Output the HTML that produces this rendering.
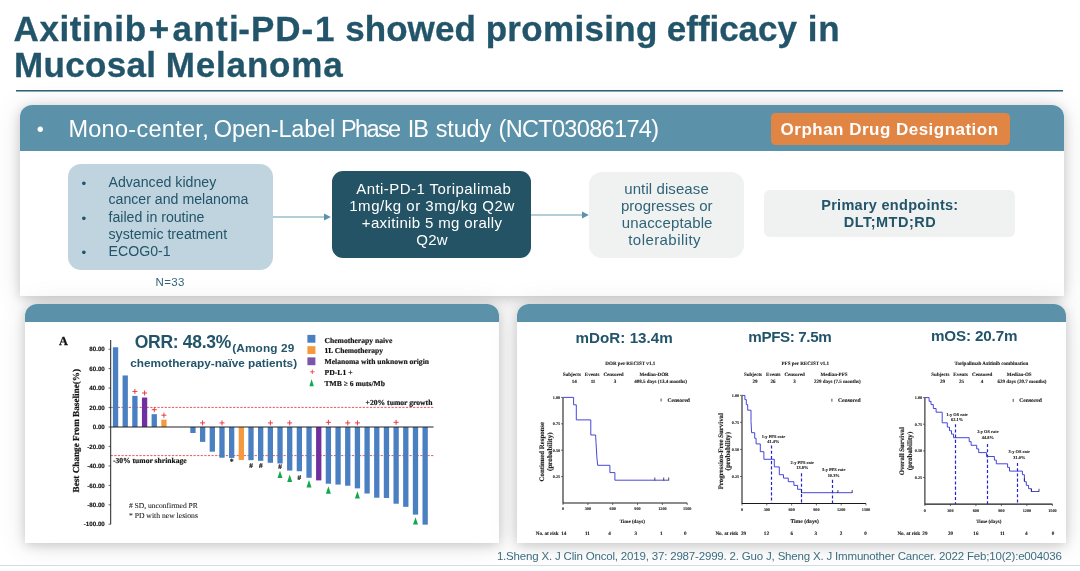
<!DOCTYPE html>
<html lang="en"><head><meta charset="utf-8"><title>Axitinib+anti-PD-1 showed promising efficacy in Mucosal Melanoma</title>
<style>
html,body{margin:0;padding:0;}
body{width:1080px;height:571px;position:relative;overflow:hidden;background:#fff;font-family:'Liberation Sans', sans-serif;}
.t{position:absolute;white-space:pre;line-height:1;font-family:'Liberation Sans', sans-serif;}
.abs{position:absolute;}
.g{margin:0;padding:0;font:inherit;}
.rule{left:16px;top:90px;width:1047px;height:1px;background:#2f6478;box-shadow:0 1px 0 rgba(47,100,120,.55);}
.panel{position:absolute;background:#fff;border-radius:12px 12px 0 0;box-shadow:0 2px 12px rgba(0,0,0,.18),0 2px 30px rgba(0,0,0,.1);}
.band{position:absolute;left:0;top:0;right:0;background:#5b92a9;border-radius:12px 12px 0 0;}
#p1{left:20px;top:105px;width:1044px;height:190.5px;}
#p1 .band{height:46px;}
#p2{left:25px;top:304px;width:474.2px;height:239.3px;}
#p3{left:517px;top:304px;width:549px;height:239.3px;}
#p2 .band,#p3 .band{height:18px;}
.badge{left:770.6px;top:113px;width:239px;height:31.5px;background:#e08544;border-radius:4.5px;}
.box{position:absolute;}
#b1{left:68px;top:164px;width:205px;height:105.5px;background:#bfd4df;border-radius:13px;}
#b2{left:331.5px;top:171.3px;width:199.3px;height:86.7px;background:#235364;border-radius:11px;}
#b3{left:589.3px;top:171.8px;width:155.2px;height:86.2px;background:#f0f1f1;border-radius:13px;}
#b4{left:764.3px;top:190px;width:251px;height:46.7px;background:#f0f1f1;border-radius:6px;}
.foot{left:0;top:565px;width:1080px;height:6px;background:#fff;border-top:1px solid #d3dce4;}
svg{position:absolute;left:0;top:0;}
</style></head><body>
<div class="abs rule"></div>
<div class="panel" id="p1"><div class="band"></div></div>
<div class="panel" id="p2"><div class="band"></div></div>
<div class="panel" id="p3"><div class="band"></div></div>
<div class="abs badge"></div>
<div class="box" id="b1"></div><div class="box" id="b2"></div><div class="box" id="b3"></div><div class="box" id="b4"></div>
<div class="abs foot"></div>
<svg width="1080" height="571" viewBox="0 0 1080 571" text-rendering="geometricPrecision">
<g stroke="#6a9bb1" stroke-width="1" fill="#5b92a9"><path d="M273 217H325" fill="none"/><path d="M324 213.5L330.8 217L324 220.5Z" stroke="none"/><path d="M531 215H583" fill="none"/><path d="M582 211.5L588.8 215L582 218.5Z" stroke="none"/></g>
<g stroke="#e8343a" stroke-width="0.85" stroke-dasharray="2.2 1.4" fill="none"><path d="M110.7 407.4H433.5"/><path d="M110.7 455.6H433.5"/></g>
<rect x="112.90" y="347.25" width="5.3" height="79.75" fill="#4a7fc1"/>
<rect x="122.58" y="375.46" width="5.3" height="51.54" fill="#4a7fc1"/>
<rect x="132.25" y="395.88" width="5.3" height="31.12" fill="#4a7fc1"/>
<rect x="141.93" y="397.53" width="5.3" height="29.47" fill="#7030a0"/>
<rect x="151.60" y="414.16" width="5.3" height="12.84" fill="#4a7fc1"/>
<rect x="161.28" y="419.71" width="5.3" height="7.29" fill="#f59a3c"/>
<rect x="190.30" y="427.00" width="5.3" height="6.03" fill="#4a7fc1"/>
<rect x="199.98" y="427.00" width="5.3" height="14.88" fill="#4a7fc1"/>
<rect x="209.65" y="427.00" width="5.3" height="24.70" fill="#4a7fc1"/>
<rect x="219.33" y="427.00" width="5.3" height="30.73" fill="#4a7fc1"/>
<rect x="229.00" y="427.00" width="5.3" height="30.93" fill="#4a7fc1"/>
<rect x="238.68" y="427.00" width="5.3" height="32.97" fill="#f59a3c"/>
<rect x="248.35" y="427.00" width="5.3" height="33.16" fill="#4a7fc1"/>
<rect x="258.02" y="427.00" width="5.3" height="33.84" fill="#4a7fc1"/>
<rect x="267.70" y="427.00" width="5.3" height="35.79" fill="#4a7fc1"/>
<rect x="277.38" y="427.00" width="5.3" height="36.47" fill="#4a7fc1"/>
<rect x="287.05" y="427.00" width="5.3" height="43.57" fill="#4a7fc1"/>
<rect x="296.73" y="427.00" width="5.3" height="44.25" fill="#4a7fc1"/>
<rect x="306.40" y="427.00" width="5.3" height="50.76" fill="#4a7fc1"/>
<rect x="316.08" y="427.00" width="5.3" height="53.39" fill="#7030a0"/>
<rect x="325.75" y="427.00" width="5.3" height="56.70" fill="#4a7fc1"/>
<rect x="335.43" y="427.00" width="5.3" height="57.57" fill="#4a7fc1"/>
<rect x="345.10" y="427.00" width="5.3" height="58.74" fill="#4a7fc1"/>
<rect x="354.78" y="427.00" width="5.3" height="61.36" fill="#4a7fc1"/>
<rect x="364.45" y="427.00" width="5.3" height="66.52" fill="#4a7fc1"/>
<rect x="374.12" y="427.00" width="5.3" height="70.70" fill="#4a7fc1"/>
<rect x="383.80" y="427.00" width="5.3" height="70.99" fill="#4a7fc1"/>
<rect x="393.48" y="427.00" width="5.3" height="76.73" fill="#4a7fc1"/>
<rect x="403.15" y="427.00" width="5.3" height="79.84" fill="#4a7fc1"/>
<rect x="412.83" y="427.00" width="5.3" height="87.62" fill="#4a7fc1"/>
<rect x="422.50" y="427.00" width="5.3" height="97.64" fill="#4a7fc1"/>
<path d="M110.7 340V524.3M110.7 427.0H433.5" stroke="#222" stroke-width="1" fill="none"/>
<path d="M108.6 524.2H110.7M108.6 504.8H110.7M108.6 485.4H110.7M108.6 465.9H110.7M108.6 446.4H110.7M108.6 427.0H110.7M108.6 407.6H110.7M108.6 388.1H110.7M108.6 368.6H110.7M108.6 349.2H110.7" stroke="#222" stroke-width="0.7" fill="none"/>
<text x="104.8" y="526.4" font-family="Liberation Sans, sans-serif" font-size="6.2" font-weight="700" fill="#111" stroke="#111" stroke-width="0.14" text-anchor="end">-100.00</text>
<text x="104.8" y="506.9" font-family="Liberation Sans, sans-serif" font-size="6.2" font-weight="700" fill="#111" stroke="#111" stroke-width="0.14" text-anchor="end">-80.00</text>
<text x="104.8" y="487.5" font-family="Liberation Sans, sans-serif" font-size="6.2" font-weight="700" fill="#111" stroke="#111" stroke-width="0.14" text-anchor="end">-60.00</text>
<text x="104.8" y="468.0" font-family="Liberation Sans, sans-serif" font-size="6.2" font-weight="700" fill="#111" stroke="#111" stroke-width="0.14" text-anchor="end">-40.00</text>
<text x="104.8" y="448.6" font-family="Liberation Sans, sans-serif" font-size="6.2" font-weight="700" fill="#111" stroke="#111" stroke-width="0.14" text-anchor="end">-20.00</text>
<text x="104.8" y="429.1" font-family="Liberation Sans, sans-serif" font-size="6.2" font-weight="700" fill="#111" stroke="#111" stroke-width="0.14" text-anchor="end">0.00</text>
<text x="104.8" y="409.7" font-family="Liberation Sans, sans-serif" font-size="6.2" font-weight="700" fill="#111" stroke="#111" stroke-width="0.14" text-anchor="end">20.00</text>
<text x="104.8" y="390.2" font-family="Liberation Sans, sans-serif" font-size="6.2" font-weight="700" fill="#111" stroke="#111" stroke-width="0.14" text-anchor="end">40.00</text>
<text x="104.8" y="370.8" font-family="Liberation Sans, sans-serif" font-size="6.2" font-weight="700" fill="#111" stroke="#111" stroke-width="0.14" text-anchor="end">60.00</text>
<text x="104.8" y="351.3" font-family="Liberation Sans, sans-serif" font-size="6.2" font-weight="700" fill="#111" stroke="#111" stroke-width="0.14" text-anchor="end">80.00</text>
<path d="M132.4 391.4H137.4M134.9 388.9V393.9" stroke="#e8343a" stroke-width="0.95" fill="none"/>
<path d="M142.1 393.0H147.1M144.6 390.5V395.5" stroke="#e8343a" stroke-width="0.95" fill="none"/>
<path d="M151.8 409.7H156.8M154.3 407.2V412.2" stroke="#e8343a" stroke-width="0.95" fill="none"/>
<path d="M161.4 415.2H166.4M163.9 412.7V417.7" stroke="#e8343a" stroke-width="0.95" fill="none"/>
<path d="M200.1 422.9H205.1M202.6 420.4V425.4" stroke="#e8343a" stroke-width="0.95" fill="none"/>
<path d="M219.5 422.9H224.5M222.0 420.4V425.4" stroke="#e8343a" stroke-width="0.95" fill="none"/>
<path d="M267.9 422.9H272.9M270.4 420.4V425.4" stroke="#e8343a" stroke-width="0.95" fill="none"/>
<path d="M287.2 422.9H292.2M289.7 420.4V425.4" stroke="#e8343a" stroke-width="0.95" fill="none"/>
<path d="M325.9 422.3H330.9M328.4 419.8V424.8" stroke="#e8343a" stroke-width="0.95" fill="none"/>
<path d="M345.2 422.9H350.2M347.8 420.4V425.4" stroke="#e8343a" stroke-width="0.95" fill="none"/>
<path d="M354.9 422.9H359.9M357.4 420.4V425.4" stroke="#e8343a" stroke-width="0.95" fill="none"/>
<path d="M393.6 422.3H398.6M396.1 419.8V424.8" stroke="#e8343a" stroke-width="0.95" fill="none"/>
<path d="M280.0 470.7L282.5 478.1H277.5Z" fill="#12a84c"/>
<path d="M289.7 474.5L292.2 481.9H287.2Z" fill="#12a84c"/>
<path d="M309.0 480.1L311.5 487.5H306.5Z" fill="#12a84c"/>
<path d="M328.4 486.3L330.9 493.7H325.9Z" fill="#12a84c"/>
<path d="M357.4 491.2L359.9 498.6H354.9Z" fill="#12a84c"/>
<path d="M415.5 517.2L418.0 524.6H413.0Z" fill="#12a84c"/>
<text x="231.7" y="463.8" font-family="Liberation Serif, serif" font-size="7.8" font-weight="700" fill="#111" stroke="#111" stroke-width="0.17" text-anchor="middle">*</text>
<text x="251.0" y="467.5" font-family="Liberation Serif, serif" font-size="7.2" font-weight="700" fill="#111" stroke="#111" stroke-width="0.16" text-anchor="middle">#</text>
<text x="260.7" y="467.5" font-family="Liberation Serif, serif" font-size="7.2" font-weight="700" fill="#111" stroke="#111" stroke-width="0.16" text-anchor="middle">#</text>
<text x="280.0" y="469.0" font-family="Liberation Serif, serif" font-size="7.2" font-weight="700" fill="#111" stroke="#111" stroke-width="0.16" text-anchor="middle">#</text>
<text x="299.4" y="479.7" font-family="Liberation Serif, serif" font-size="7.2" font-weight="700" fill="#111" stroke="#111" stroke-width="0.16" text-anchor="middle">#</text>
<text x="58.9" y="345.1" font-family="Liberation Serif, serif" font-size="12.32" font-weight="700" fill="#111" stroke="#111" stroke-width="0.27" textLength="8.9" lengthAdjust="spacingAndGlyphs">A</text>
<text x="79.5" y="430.7" font-family="Liberation Serif, serif" font-size="9.19" font-weight="700" fill="#111" stroke="#111" stroke-width="0.20" text-anchor="middle" textLength="123.5" lengthAdjust="spacingAndGlyphs" transform="rotate(-90 79.5 430.7)">Best Change From Baseline(%)</text>
<text x="365.6" y="405.1" font-family="Liberation Serif, serif" font-size="7.63" font-weight="700" fill="#111" stroke="#111" stroke-width="0.17" textLength="66.8" lengthAdjust="spacingAndGlyphs">+20% tumor growth</text>
<text x="112.9" y="462.7" font-family="Liberation Serif, serif" font-size="7.6" font-weight="700" fill="#111" stroke="#111" stroke-width="0.17" textLength="73.8" lengthAdjust="spacingAndGlyphs">-30% tumor shrinkage</text>
<text x="128.9" y="507.9" font-family="Liberation Serif, serif" font-size="7.58" font-weight="400" fill="#222" stroke="#222" stroke-width="0.09" textLength="69.0" lengthAdjust="spacingAndGlyphs"># SD, unconfirmed PR</text>
<text x="128.9" y="518.2" font-family="Liberation Serif, serif" font-size="7.67" font-weight="400" fill="#222" stroke="#222" stroke-width="0.09" textLength="69.0" lengthAdjust="spacingAndGlyphs">* PD with new lesions</text>
<rect x="307.4" y="334.9" width="8" height="7.8" fill="#4a7fc1"/><rect x="307.4" y="346.2" width="8" height="7.8" fill="#f59a3c"/><rect x="307.4" y="357.4" width="8" height="7.8" fill="#7d55a8"/>
<path d="M310.1 371.8H314.5M312.3 369.6V374.0" stroke="#e8343a" stroke-width="0.8" fill="none"/>
<path d="M311.6 378.9L313.8 386.3H309.4Z" fill="#12a84c"/>
<text x="324.5" y="342.7" font-family="Liberation Serif, serif" font-size="7.61" font-weight="700" fill="#111" stroke="#111" stroke-width="0.17" textLength="67.8" lengthAdjust="spacingAndGlyphs">Chemotherapy naive</text>
<text x="324.5" y="352.9" font-family="Liberation Serif, serif" font-size="7.56" font-weight="700" fill="#111" stroke="#111" stroke-width="0.17" textLength="58.5" lengthAdjust="spacingAndGlyphs">1L Chemotherapy</text>
<text x="324.5" y="363.6" font-family="Liberation Serif, serif" font-size="7.61" font-weight="700" fill="#111" stroke="#111" stroke-width="0.17" textLength="104.5" lengthAdjust="spacingAndGlyphs">Melanoma with unknown origin</text>
<text x="324.5" y="374.5" font-family="Liberation Serif, serif" font-size="7.67" font-weight="700" fill="#111" stroke="#111" stroke-width="0.17" textLength="28.0" lengthAdjust="spacingAndGlyphs">PD-L1 +</text>
<text x="324.5" y="386.3" font-family="Liberation Serif, serif" font-size="7.6" font-weight="700" fill="#111" stroke="#111" stroke-width="0.17" textLength="60.5" lengthAdjust="spacingAndGlyphs">TMB ≥ 6 muts/Mb</text>
<path d="M563.0 397.4V503.0H687.2" stroke="#1a1a1a" stroke-width="1.05" fill="none"/>
<path d="M563.0 503.0v2M587.9 503.0v2M612.7 503.0v2M637.5 503.0v2M662.4 503.0v2M687.2 503.0v2M563.0 476.6h-2M563.0 450.2h-2M563.0 423.8h-2M563.0 397.4h-2" stroke="#333" stroke-width="0.7" fill="none"/>
<text x="563.0" y="510.4" font-family="Liberation Serif, serif" font-size="4.2" font-weight="700" fill="#222" stroke="#222" stroke-width="0.09" text-anchor="middle">0</text>
<text x="587.9" y="510.4" font-family="Liberation Serif, serif" font-size="4.2" font-weight="700" fill="#222" stroke="#222" stroke-width="0.09" text-anchor="middle">300</text>
<text x="612.7" y="510.4" font-family="Liberation Serif, serif" font-size="4.2" font-weight="700" fill="#222" stroke="#222" stroke-width="0.09" text-anchor="middle">600</text>
<text x="637.5" y="510.4" font-family="Liberation Serif, serif" font-size="4.2" font-weight="700" fill="#222" stroke="#222" stroke-width="0.09" text-anchor="middle">900</text>
<text x="662.4" y="510.4" font-family="Liberation Serif, serif" font-size="4.2" font-weight="700" fill="#222" stroke="#222" stroke-width="0.09" text-anchor="middle">1200</text>
<text x="687.2" y="510.4" font-family="Liberation Serif, serif" font-size="4.2" font-weight="700" fill="#222" stroke="#222" stroke-width="0.09" text-anchor="middle">1500</text>
<text x="560.2" y="478.0" font-family="Liberation Serif, serif" font-size="4.2" font-weight="700" fill="#222" stroke="#222" stroke-width="0.09" text-anchor="end">0.25</text>
<text x="560.2" y="451.6" font-family="Liberation Serif, serif" font-size="4.2" font-weight="700" fill="#222" stroke="#222" stroke-width="0.09" text-anchor="end">0.50</text>
<text x="560.2" y="425.2" font-family="Liberation Serif, serif" font-size="4.2" font-weight="700" fill="#222" stroke="#222" stroke-width="0.09" text-anchor="end">0.75</text>
<text x="560.2" y="398.8" font-family="Liberation Serif, serif" font-size="4.2" font-weight="700" fill="#222" stroke="#222" stroke-width="0.09" text-anchor="end">1.00</text>
<path d="M563.1 397.4 L573.6 397.4 L573.6 404.8 L576.3 404.8 L576.3 419.9 L590.8 419.9 L590.8 435.0 L595.6 435.0 L596.0 442.4 L596.9 457.7 L597.7 465.3 L609.9 465.3 L609.9 472.6 L614.9 472.6 L614.9 480.2 L668.7 480.2" stroke="#3232d6" stroke-width="0.9" fill="none"/>
<path d="M654.8 480.5v-3" stroke="#222" stroke-width="0.8"/>
<path d="M663.7 480.5v-3" stroke="#222" stroke-width="0.8"/>
<path d="M668.7 480.5v-3" stroke="#222" stroke-width="0.8"/>
<text x="630.3" y="364.5" font-family="Liberation Serif, serif" font-size="5.07" font-weight="700" fill="#222" stroke="#222" stroke-width="0.11" text-anchor="middle">DOR per RECIST v1.1</text>
<text x="571.8" y="376.4" font-family="Liberation Serif, serif" font-size="5.03" font-weight="700" fill="#222" stroke="#222" stroke-width="0.11" text-anchor="middle">Subjects</text>
<text x="592.1" y="376.4" font-family="Liberation Serif, serif" font-size="5.03" font-weight="700" fill="#222" stroke="#222" stroke-width="0.11" text-anchor="middle">Events</text>
<text x="613.5" y="376.4" font-family="Liberation Serif, serif" font-size="5.03" font-weight="700" fill="#222" stroke="#222" stroke-width="0.11" text-anchor="middle">Censored</text>
<text x="654.1" y="376.4" font-family="Liberation Serif, serif" font-size="5.03" font-weight="700" fill="#222" stroke="#222" stroke-width="0.11" text-anchor="middle">Median-DOR</text>
<text x="574.2" y="383.0" font-family="Liberation Serif, serif" font-size="5.03" font-weight="700" fill="#222" stroke="#222" stroke-width="0.11" text-anchor="middle">14</text>
<text x="593.0" y="383.0" font-family="Liberation Serif, serif" font-size="5.03" font-weight="700" fill="#222" stroke="#222" stroke-width="0.11" text-anchor="middle">11</text>
<text x="615.0" y="383.0" font-family="Liberation Serif, serif" font-size="5.03" font-weight="700" fill="#222" stroke="#222" stroke-width="0.11" text-anchor="middle">3</text>
<text x="660.6" y="383.0" font-family="Liberation Serif, serif" font-size="5.03" font-weight="700" fill="#222" stroke="#222" stroke-width="0.11" text-anchor="middle">408.5 days (13.4 months)</text>
<path d="M661.1 398.5v3" stroke="#222" stroke-width="0.8"/>
<text x="667.4" y="401.6" font-family="Liberation Serif, serif" font-size="5.6" font-weight="700" fill="#222" stroke="#222" stroke-width="0.12">Censored</text>
<text x="543.8" y="451.7" font-family="Liberation Serif, serif" font-size="6.79" font-weight="700" fill="#222" stroke="#222" stroke-width="0.15" text-anchor="middle" textLength="59.4" lengthAdjust="spacingAndGlyphs" transform="rotate(-90 543.8 451.7)">Continued Response</text>
<text x="551.6" y="451.7" font-family="Liberation Serif, serif" font-size="7.1" font-weight="700" fill="#222" stroke="#222" stroke-width="0.16" text-anchor="middle" textLength="38.5" lengthAdjust="spacingAndGlyphs" transform="rotate(-90 551.6 451.7)">(probability)</text>
<text x="632.3" y="523.4" font-family="Liberation Serif, serif" font-size="5.0" font-weight="700" fill="#222" stroke="#222" stroke-width="0.11" text-anchor="middle">Time (days)</text>
<text x="535.8" y="535.2" font-family="Liberation Serif, serif" font-size="5.1" font-weight="700" fill="#222" stroke="#222" stroke-width="0.11">No. at risk</text>
<text x="563.7" y="535.2" font-family="Liberation Serif, serif" font-size="5.1" font-weight="700" fill="#222" stroke="#222" stroke-width="0.11" text-anchor="middle">14</text>
<text x="587.5" y="535.2" font-family="Liberation Serif, serif" font-size="5.1" font-weight="700" fill="#222" stroke="#222" stroke-width="0.11" text-anchor="middle">11</text>
<text x="609.5" y="535.2" font-family="Liberation Serif, serif" font-size="5.1" font-weight="700" fill="#222" stroke="#222" stroke-width="0.11" text-anchor="middle">4</text>
<text x="635.8" y="535.2" font-family="Liberation Serif, serif" font-size="5.1" font-weight="700" fill="#222" stroke="#222" stroke-width="0.11" text-anchor="middle">3</text>
<text x="661.3" y="535.2" font-family="Liberation Serif, serif" font-size="5.1" font-weight="700" fill="#222" stroke="#222" stroke-width="0.11" text-anchor="middle">1</text>
<text x="685.3" y="535.2" font-family="Liberation Serif, serif" font-size="5.1" font-weight="700" fill="#222" stroke="#222" stroke-width="0.11" text-anchor="middle">0</text>
<path d="M742.0 395.4V503.5H866.0" stroke="#1a1a1a" stroke-width="1.05" fill="none"/>
<path d="M742.0 503.5v2M766.8 503.5v2M791.6 503.5v2M816.4 503.5v2M841.2 503.5v2M866.0 503.5v2M742.0 476.5h-2M742.0 449.4h-2M742.0 422.4h-2M742.0 395.4h-2" stroke="#333" stroke-width="0.7" fill="none"/>
<text x="742.0" y="510.9" font-family="Liberation Serif, serif" font-size="4.2" font-weight="700" fill="#222" stroke="#222" stroke-width="0.09" text-anchor="middle">0</text>
<text x="766.8" y="510.9" font-family="Liberation Serif, serif" font-size="4.2" font-weight="700" fill="#222" stroke="#222" stroke-width="0.09" text-anchor="middle">300</text>
<text x="791.6" y="510.9" font-family="Liberation Serif, serif" font-size="4.2" font-weight="700" fill="#222" stroke="#222" stroke-width="0.09" text-anchor="middle">600</text>
<text x="816.4" y="510.9" font-family="Liberation Serif, serif" font-size="4.2" font-weight="700" fill="#222" stroke="#222" stroke-width="0.09" text-anchor="middle">900</text>
<text x="841.2" y="510.9" font-family="Liberation Serif, serif" font-size="4.2" font-weight="700" fill="#222" stroke="#222" stroke-width="0.09" text-anchor="middle">1200</text>
<text x="866.0" y="510.9" font-family="Liberation Serif, serif" font-size="4.2" font-weight="700" fill="#222" stroke="#222" stroke-width="0.09" text-anchor="middle">1500</text>
<text x="739.2" y="477.9" font-family="Liberation Serif, serif" font-size="4.2" font-weight="700" fill="#222" stroke="#222" stroke-width="0.09" text-anchor="end">0.25</text>
<text x="739.2" y="450.8" font-family="Liberation Serif, serif" font-size="4.2" font-weight="700" fill="#222" stroke="#222" stroke-width="0.09" text-anchor="end">0.50</text>
<text x="739.2" y="423.8" font-family="Liberation Serif, serif" font-size="4.2" font-weight="700" fill="#222" stroke="#222" stroke-width="0.09" text-anchor="end">0.75</text>
<text x="739.2" y="396.8" font-family="Liberation Serif, serif" font-size="4.2" font-weight="700" fill="#222" stroke="#222" stroke-width="0.09" text-anchor="end">1.00</text>
<path d="M771.5 445.5V503.5" stroke="#2424cf" stroke-width="1.2" stroke-dasharray="3.1 2.1" fill="none"/>
<path d="M801.5 473.3V503.5" stroke="#2424cf" stroke-width="1.2" stroke-dasharray="3.1 2.1" fill="none"/>
<path d="M832.5 479.8V503.5" stroke="#2424cf" stroke-width="1.2" stroke-dasharray="3.1 2.1" fill="none"/>
<path d="M742.1 395.4 L744.9 395.4 L744.9 399.6 L746.3 399.6 L746.3 404.6 L747.7 404.6 L747.7 410.2 L751.0 410.2 L751.0 421.4 L751.6 432.7 L754.7 432.7 L754.7 438.3 L756.1 438.3 L756.1 443.9 L760.3 443.9 L760.3 451.7 L763.9 451.7 L763.9 459.3 L774.3 459.3 L774.3 466.9 L779.3 466.9 L779.3 474.7 L783.5 474.7 L783.5 478.1 L788.3 478.1 L788.3 481.7 L793.9 481.7 L793.9 485.4 L797.6 485.4 L797.6 489.3 L801.5 489.3 L801.5 492.7 L852.2 492.7" stroke="#3232d6" stroke-width="0.9" fill="none"/>
<path d="M801.5 493.0v-3" stroke="#222" stroke-width="0.8"/>
<path d="M837.9 493.0v-3" stroke="#222" stroke-width="0.8"/>
<path d="M852.2 493.0v-3" stroke="#222" stroke-width="0.8"/>
<text x="773.4" y="437.7" font-family="Liberation Serif, serif" font-size="4.4" font-weight="700" fill="#222" stroke="#222" stroke-width="0.10" text-anchor="middle">1-y PFS rate</text>
<text x="773.4" y="443.3" font-family="Liberation Serif, serif" font-size="4.4" font-weight="700" fill="#222" stroke="#222" stroke-width="0.10" text-anchor="middle">41.4%</text>
<text x="802.3" y="463.5" font-family="Liberation Serif, serif" font-size="4.4" font-weight="700" fill="#222" stroke="#222" stroke-width="0.10" text-anchor="middle">2-y PFS rate</text>
<text x="802.3" y="469.1" font-family="Liberation Serif, serif" font-size="4.4" font-weight="700" fill="#222" stroke="#222" stroke-width="0.10" text-anchor="middle">13.8%</text>
<text x="833.7" y="470.5" font-family="Liberation Serif, serif" font-size="4.4" font-weight="700" fill="#222" stroke="#222" stroke-width="0.10" text-anchor="middle">3-y PFS rate</text>
<text x="833.7" y="476.7" font-family="Liberation Serif, serif" font-size="4.4" font-weight="700" fill="#222" stroke="#222" stroke-width="0.10" text-anchor="middle">10.3%</text>
<text x="805.3" y="364.5" font-family="Liberation Serif, serif" font-size="5.07" font-weight="700" fill="#222" stroke="#222" stroke-width="0.11" text-anchor="middle">PFS per RECIST v1.1</text>
<text x="753.0" y="376.4" font-family="Liberation Serif, serif" font-size="5.03" font-weight="700" fill="#222" stroke="#222" stroke-width="0.11" text-anchor="middle">Subjects</text>
<text x="773.3" y="376.4" font-family="Liberation Serif, serif" font-size="5.03" font-weight="700" fill="#222" stroke="#222" stroke-width="0.11" text-anchor="middle">Events</text>
<text x="794.6" y="376.4" font-family="Liberation Serif, serif" font-size="5.03" font-weight="700" fill="#222" stroke="#222" stroke-width="0.11" text-anchor="middle">Censored</text>
<text x="834.0" y="376.4" font-family="Liberation Serif, serif" font-size="5.03" font-weight="700" fill="#222" stroke="#222" stroke-width="0.11" text-anchor="middle">Median-PFS</text>
<text x="755.0" y="383.0" font-family="Liberation Serif, serif" font-size="5.03" font-weight="700" fill="#222" stroke="#222" stroke-width="0.11" text-anchor="middle">29</text>
<text x="772.9" y="383.0" font-family="Liberation Serif, serif" font-size="5.03" font-weight="700" fill="#222" stroke="#222" stroke-width="0.11" text-anchor="middle">26</text>
<text x="794.5" y="383.0" font-family="Liberation Serif, serif" font-size="5.03" font-weight="700" fill="#222" stroke="#222" stroke-width="0.11" text-anchor="middle">3</text>
<text x="837.3" y="383.0" font-family="Liberation Serif, serif" font-size="5.03" font-weight="700" fill="#222" stroke="#222" stroke-width="0.11" text-anchor="middle">229 days (7.5 months)</text>
<path d="M831.9 398.7v3" stroke="#222" stroke-width="0.8"/>
<text x="838.0" y="401.8" font-family="Liberation Serif, serif" font-size="5.6" font-weight="700" fill="#222" stroke="#222" stroke-width="0.12">Censored</text>
<text x="722.7" y="451.2" font-family="Liberation Serif, serif" font-size="6.86" font-weight="700" fill="#222" stroke="#222" stroke-width="0.15" text-anchor="middle" textLength="76.3" lengthAdjust="spacingAndGlyphs" transform="rotate(-90 722.7 451.2)">Progression-Free Survival</text>
<text x="730.2" y="451.2" font-family="Liberation Serif, serif" font-size="7.1" font-weight="700" fill="#222" stroke="#222" stroke-width="0.16" text-anchor="middle" textLength="38.5" lengthAdjust="spacingAndGlyphs" transform="rotate(-90 730.2 451.2)">(probability)</text>
<text x="804.6" y="523.4" font-family="Liberation Serif, serif" font-size="5.6" font-weight="700" fill="#222" stroke="#222" stroke-width="0.12" text-anchor="middle">Time (days)</text>
<text x="715.4" y="535.2" font-family="Liberation Serif, serif" font-size="5.1" font-weight="700" fill="#222" stroke="#222" stroke-width="0.11">No. at risk</text>
<text x="743.5" y="535.2" font-family="Liberation Serif, serif" font-size="5.1" font-weight="700" fill="#222" stroke="#222" stroke-width="0.11" text-anchor="middle">29</text>
<text x="766.4" y="535.2" font-family="Liberation Serif, serif" font-size="5.1" font-weight="700" fill="#222" stroke="#222" stroke-width="0.11" text-anchor="middle">12</text>
<text x="791.7" y="535.2" font-family="Liberation Serif, serif" font-size="5.1" font-weight="700" fill="#222" stroke="#222" stroke-width="0.11" text-anchor="middle">6</text>
<text x="815.8" y="535.2" font-family="Liberation Serif, serif" font-size="5.1" font-weight="700" fill="#222" stroke="#222" stroke-width="0.11" text-anchor="middle">3</text>
<text x="841.0" y="535.2" font-family="Liberation Serif, serif" font-size="5.1" font-weight="700" fill="#222" stroke="#222" stroke-width="0.11" text-anchor="middle">2</text>
<text x="865.4" y="535.2" font-family="Liberation Serif, serif" font-size="5.1" font-weight="700" fill="#222" stroke="#222" stroke-width="0.11" text-anchor="middle">0</text>
<path d="M924.9 397.6V504.1H1052.4" stroke="#1a1a1a" stroke-width="1.05" fill="none"/>
<path d="M924.9 504.1v2M950.4 504.1v2M975.9 504.1v2M1001.4 504.1v2M1026.9 504.1v2M1052.4 504.1v2M924.9 477.5h-2M924.9 450.9h-2M924.9 424.2h-2M924.9 397.6h-2" stroke="#333" stroke-width="0.7" fill="none"/>
<text x="924.9" y="511.5" font-family="Liberation Serif, serif" font-size="4.2" font-weight="700" fill="#222" stroke="#222" stroke-width="0.09" text-anchor="middle">0</text>
<text x="950.4" y="511.5" font-family="Liberation Serif, serif" font-size="4.2" font-weight="700" fill="#222" stroke="#222" stroke-width="0.09" text-anchor="middle">300</text>
<text x="975.9" y="511.5" font-family="Liberation Serif, serif" font-size="4.2" font-weight="700" fill="#222" stroke="#222" stroke-width="0.09" text-anchor="middle">600</text>
<text x="1001.4" y="511.5" font-family="Liberation Serif, serif" font-size="4.2" font-weight="700" fill="#222" stroke="#222" stroke-width="0.09" text-anchor="middle">900</text>
<text x="1026.9" y="511.5" font-family="Liberation Serif, serif" font-size="4.2" font-weight="700" fill="#222" stroke="#222" stroke-width="0.09" text-anchor="middle">1200</text>
<text x="1052.4" y="511.5" font-family="Liberation Serif, serif" font-size="4.2" font-weight="700" fill="#222" stroke="#222" stroke-width="0.09" text-anchor="middle">1500</text>
<text x="922.1" y="478.9" font-family="Liberation Serif, serif" font-size="4.2" font-weight="700" fill="#222" stroke="#222" stroke-width="0.09" text-anchor="end">0.25</text>
<text x="922.1" y="452.2" font-family="Liberation Serif, serif" font-size="4.2" font-weight="700" fill="#222" stroke="#222" stroke-width="0.09" text-anchor="end">0.50</text>
<text x="922.1" y="425.6" font-family="Liberation Serif, serif" font-size="4.2" font-weight="700" fill="#222" stroke="#222" stroke-width="0.09" text-anchor="end">0.75</text>
<text x="922.1" y="399.0" font-family="Liberation Serif, serif" font-size="4.2" font-weight="700" fill="#222" stroke="#222" stroke-width="0.09" text-anchor="end">1.00</text>
<path d="M955.5 424.2V504.1" stroke="#2424cf" stroke-width="1.2" stroke-dasharray="3.1 2.1" fill="none"/>
<path d="M987.5 444.0V504.1" stroke="#2424cf" stroke-width="1.2" stroke-dasharray="3.1 2.1" fill="none"/>
<path d="M1017.5 463.0V504.1" stroke="#2424cf" stroke-width="1.2" stroke-dasharray="3.1 2.1" fill="none"/>
<path d="M924.9 397.6 L929.1 397.6 L929.1 401.3 L931.0 401.3 L931.0 404.6 L933.3 404.6 L933.3 408.5 L936.1 408.5 L936.1 412.2 L942.2 412.2 L942.2 422.8 L947.3 422.8 L947.3 427.1 L949.5 427.1 L949.5 430.7 L951.5 430.7 L951.5 434.1 L953.5 434.1 L953.5 437.7 L969.2 437.7 L969.2 441.6 L971.1 441.6 L971.1 445.3 L976.7 445.3 L976.7 448.9 L978.7 448.9 L978.7 452.6 L986.5 452.6 L986.5 456.5 L994.4 456.5 L994.4 460.1 L996.3 460.1 L996.3 463.8 L1007.6 463.8 L1007.6 467.4 L1009.5 467.4 L1009.5 471.1 L1022.4 471.1 L1022.4 474.7 L1024.4 474.7 L1024.4 481.7 L1026.3 481.7 L1026.3 485.4 L1028.6 485.4 L1028.6 488.7 L1031.4 488.7 L1031.4 491.5 L1039.0 491.5" stroke="#3232d6" stroke-width="0.9" fill="none"/>
<path d="M1024.4 481.2v-3" stroke="#222" stroke-width="0.8"/>
<path d="M1031.4 491.8v-3" stroke="#222" stroke-width="0.8"/>
<path d="M1039.0 491.8v-3" stroke="#222" stroke-width="0.8"/>
<text x="957.1" y="415.8" font-family="Liberation Serif, serif" font-size="4.4" font-weight="700" fill="#222" stroke="#222" stroke-width="0.10" text-anchor="middle">1-y OS rate</text>
<text x="957.1" y="421.4" font-family="Liberation Serif, serif" font-size="4.4" font-weight="700" fill="#222" stroke="#222" stroke-width="0.10" text-anchor="middle">62.1%</text>
<text x="987.9" y="433.2" font-family="Liberation Serif, serif" font-size="4.4" font-weight="700" fill="#222" stroke="#222" stroke-width="0.10" text-anchor="middle">2-y OS rate</text>
<text x="987.9" y="438.8" font-family="Liberation Serif, serif" font-size="4.4" font-weight="700" fill="#222" stroke="#222" stroke-width="0.10" text-anchor="middle">44.8%</text>
<text x="1019.3" y="452.8" font-family="Liberation Serif, serif" font-size="4.4" font-weight="700" fill="#222" stroke="#222" stroke-width="0.10" text-anchor="middle">3-y OS rate</text>
<text x="1019.3" y="458.5" font-family="Liberation Serif, serif" font-size="4.4" font-weight="700" fill="#222" stroke="#222" stroke-width="0.10" text-anchor="middle">31.0%</text>
<text x="991.4" y="364.7" font-family="Liberation Serif, serif" font-size="5.07" font-weight="700" fill="#222" stroke="#222" stroke-width="0.11" text-anchor="middle">Toripalimab Axitinib combination</text>
<text x="940.4" y="376.4" font-family="Liberation Serif, serif" font-size="5.03" font-weight="700" fill="#222" stroke="#222" stroke-width="0.11" text-anchor="middle">Subjects</text>
<text x="960.6" y="376.4" font-family="Liberation Serif, serif" font-size="5.03" font-weight="700" fill="#222" stroke="#222" stroke-width="0.11" text-anchor="middle">Events</text>
<text x="982.2" y="376.4" font-family="Liberation Serif, serif" font-size="5.03" font-weight="700" fill="#222" stroke="#222" stroke-width="0.11" text-anchor="middle">Censored</text>
<text x="1019.2" y="376.4" font-family="Liberation Serif, serif" font-size="5.03" font-weight="700" fill="#222" stroke="#222" stroke-width="0.11" text-anchor="middle">Median-OS</text>
<text x="942.4" y="383.0" font-family="Liberation Serif, serif" font-size="5.03" font-weight="700" fill="#222" stroke="#222" stroke-width="0.11" text-anchor="middle">29</text>
<text x="961.5" y="383.0" font-family="Liberation Serif, serif" font-size="5.03" font-weight="700" fill="#222" stroke="#222" stroke-width="0.11" text-anchor="middle">25</text>
<text x="981.9" y="383.0" font-family="Liberation Serif, serif" font-size="5.03" font-weight="700" fill="#222" stroke="#222" stroke-width="0.11" text-anchor="middle">4</text>
<text x="1022.0" y="383.0" font-family="Liberation Serif, serif" font-size="5.03" font-weight="700" fill="#222" stroke="#222" stroke-width="0.11" text-anchor="middle">629 days (20.7 months)</text>
<path d="M1013.2 398.9v3" stroke="#222" stroke-width="0.8"/>
<text x="1019.3" y="402.0" font-family="Liberation Serif, serif" font-size="5.6" font-weight="700" fill="#222" stroke="#222" stroke-width="0.12">Censored</text>
<text x="904.1" y="451.2" font-family="Liberation Serif, serif" font-size="6.82" font-weight="700" fill="#222" stroke="#222" stroke-width="0.15" text-anchor="middle" textLength="48.3" lengthAdjust="spacingAndGlyphs" transform="rotate(-90 904.1 451.2)">Overall Survival</text>
<text x="911.6" y="451.0" font-family="Liberation Serif, serif" font-size="7.1" font-weight="700" fill="#222" stroke="#222" stroke-width="0.16" text-anchor="middle" textLength="38.5" lengthAdjust="spacingAndGlyphs" transform="rotate(-90 911.6 451.0)">(probability)</text>
<text x="988.8" y="523.4" font-family="Liberation Serif, serif" font-size="5.0" font-weight="700" fill="#222" stroke="#222" stroke-width="0.11" text-anchor="middle">Time (days)</text>
<text x="897.4" y="535.2" font-family="Liberation Serif, serif" font-size="5.1" font-weight="700" fill="#222" stroke="#222" stroke-width="0.11">No. at risk</text>
<text x="924.9" y="535.2" font-family="Liberation Serif, serif" font-size="5.1" font-weight="700" fill="#222" stroke="#222" stroke-width="0.11" text-anchor="middle">29</text>
<text x="950.6" y="535.2" font-family="Liberation Serif, serif" font-size="5.1" font-weight="700" fill="#222" stroke="#222" stroke-width="0.11" text-anchor="middle">20</text>
<text x="975.9" y="535.2" font-family="Liberation Serif, serif" font-size="5.1" font-weight="700" fill="#222" stroke="#222" stroke-width="0.11" text-anchor="middle">16</text>
<text x="1002.5" y="535.2" font-family="Liberation Serif, serif" font-size="5.1" font-weight="700" fill="#222" stroke="#222" stroke-width="0.11" text-anchor="middle">11</text>
<text x="1026.3" y="535.2" font-family="Liberation Serif, serif" font-size="5.1" font-weight="700" fill="#222" stroke="#222" stroke-width="0.11" text-anchor="middle">4</text>
<text x="1053.0" y="535.2" font-family="Liberation Serif, serif" font-size="5.1" font-weight="700" fill="#222" stroke="#222" stroke-width="0.11" text-anchor="middle">0</text>
</svg>
<h1 class="g" id="title">
<span class="t" style="left:13.52px;top:11.25px;font-size:35px;color:#23556a;font-weight:700;letter-spacing:0.601px;-webkit-text-stroke:.3px #23556a;">Axitinib</span>
<span class="t" style="left:148.72px;top:11.25px;font-size:35px;color:#23556a;font-weight:700;-webkit-text-stroke:.3px #23556a;">+</span>
<span class="t" style="left:172.39px;top:11.25px;font-size:35px;color:#23556a;font-weight:700;letter-spacing:1.391px;-webkit-text-stroke:.3px #23556a;">anti</span>
<span class="t" style="left:238.21px;top:11.25px;font-size:35px;color:#23556a;font-weight:700;-webkit-text-stroke:.3px #23556a;">-</span>
<span class="t" style="left:250.94px;top:11.25px;font-size:35px;color:#23556a;font-weight:700;letter-spacing:1.061px;-webkit-text-stroke:.3px #23556a;">PD</span>
<span class="t" style="left:301.61px;top:11.25px;font-size:35px;color:#23556a;font-weight:700;-webkit-text-stroke:.3px #23556a;">-</span>
<span class="t" style="left:314.98px;top:11.25px;font-size:35px;color:#23556a;font-weight:700;-webkit-text-stroke:.3px #23556a;">1 </span>
<span class="t" style="left:345.22px;top:11.25px;font-size:35px;color:#23556a;font-weight:700;letter-spacing:0.056px;-webkit-text-stroke:.3px #23556a;">showed </span>
<span class="t" style="left:485.64px;top:11.25px;font-size:35px;color:#23556a;font-weight:700;letter-spacing:0.328px;-webkit-text-stroke:.3px #23556a;">promising </span>
<span class="t" style="left:666.87px;top:11.25px;font-size:35px;color:#23556a;font-weight:700;letter-spacing:-0.052px;-webkit-text-stroke:.3px #23556a;">efficacy </span>
<span class="t" style="left:807.65px;top:11.25px;font-size:35px;color:#23556a;font-weight:700;letter-spacing:1.006px;-webkit-text-stroke:.3px #23556a;">in </span>
<span class="t" style="left:14.04px;top:47.25px;font-size:35px;color:#23556a;font-weight:700;letter-spacing:0.329px;-webkit-text-stroke:.3px #23556a;">Mucosal </span>
<span class="t" style="left:165.74px;top:47.25px;font-size:35px;color:#23556a;font-weight:700;letter-spacing:0.833px;-webkit-text-stroke:.3px #23556a;">Melanoma </span>
</h1>
<div class="g" id="study">
<span class="t" style="left:36.70px;top:119.25px;font-size:20px;color:#fff;">• </span>
<span class="t" style="left:68.38px;top:117.50px;font-size:23.5px;color:#fff;letter-spacing:0.286px;">Mono-center, </span>
<span class="t" style="left:213.84px;top:117.50px;font-size:23.5px;color:#fff;letter-spacing:-0.144px;">Open-Label </span>
<span class="t" style="left:341.08px;top:117.50px;font-size:23.5px;color:#fff;letter-spacing:-1.643px;">Phase </span>
<span class="t" style="left:407.80px;top:117.50px;font-size:23.5px;color:#fff;letter-spacing:-0.955px;">IB </span>
<span class="t" style="left:435.66px;top:117.50px;font-size:23.5px;color:#fff;letter-spacing:-0.154px;">study </span>
<span class="t" style="left:498.52px;top:117.50px;font-size:23.5px;color:#fff;letter-spacing:-0.668px;">(NCT03086174) </span>
<span class="t" style="left:780.60px;top:121.25px;font-size:17px;color:#fff;font-weight:700;letter-spacing:0.484px;">Orphan Drug Designation </span>
</div>
<div class="g" id="eligibility">
<span class="t" style="left:81.40px;top:177.00px;font-size:13.5px;color:#23556a;">• </span>
<span class="t" style="left:108.50px;top:175.18px;font-size:14.15px;color:#23556a;">Advanced kidney </span>
<span class="t" style="left:108.50px;top:192.18px;font-size:14.15px;color:#23556a;">cancer and melanoma </span>
<span class="t" style="left:81.40px;top:212.00px;font-size:13.5px;color:#23556a;">• </span>
<span class="t" style="left:108.50px;top:210.18px;font-size:14.15px;color:#23556a;">failed in routine </span>
<span class="t" style="left:108.50px;top:227.18px;font-size:14.15px;color:#23556a;">systemic treatment </span>
<span class="t" style="left:81.40px;top:246.00px;font-size:13.5px;color:#23556a;">• </span>
<span class="t" style="left:108.50px;top:244.18px;font-size:14.15px;color:#23556a;">ECOG0-1 </span>
<span class="t" style="left:155.50px;top:276.50px;font-size:11.5px;color:#2f6478;letter-spacing:0.396px;">N=33 </span>
</div>
<div class="g" id="treatment">
<span class="t" style="left:356.25px;top:181.25px;font-size:15px;color:#fff;letter-spacing:0.444px;">Anti-PD-1 Toripalimab </span>
<span class="t" style="left:349.25px;top:198.25px;font-size:15px;color:#fff;letter-spacing:0.523px;">1mg/kg or 3mg/kg Q2w </span>
<span class="t" style="left:361.77px;top:215.25px;font-size:15px;color:#fff;letter-spacing:0.363px;">+axitinib 5 mg orally </span>
<span class="t" style="left:416.27px;top:232.25px;font-size:15px;color:#fff;letter-spacing:0.203px;">Q2w </span>
</div>
<div class="g" id="until">
<span class="t" style="left:624.25px;top:181.25px;font-size:15px;color:#2f6478;letter-spacing:0.092px;">until disease </span>
<span class="t" style="left:621.00px;top:198.25px;font-size:15px;color:#2f6478;letter-spacing:-0.018px;">progresses or </span>
<span class="t" style="left:621.73px;top:215.25px;font-size:15px;color:#2f6478;letter-spacing:0.136px;">unacceptable </span>
<span class="t" style="left:628.27px;top:232.25px;font-size:15px;color:#2f6478;letter-spacing:0.429px;">tolerability </span>
</div>
<div class="g" id="endpoints">
<span class="t" style="left:821.20px;top:198.00px;font-size:14.5px;color:#23556a;font-weight:700;letter-spacing:0.286px;">Primary endpoints: </span>
<span class="t" style="left:843.70px;top:215.00px;font-size:14.5px;color:#23556a;font-weight:700;letter-spacing:0.498px;">DLT;MTD;RD </span>
</div>
<div class="g" id="orr">
<span class="t" style="left:134.80px;top:333.50px;font-size:17.5px;color:#23556a;font-weight:700;letter-spacing:-0.300px;">ORR: 48.3% </span>
<span class="t" style="left:232.30px;top:343.35px;font-size:11.8px;color:#23556a;font-weight:700;letter-spacing:0.129px;">(Among 29 </span>
<span class="t" style="left:130.30px;top:358.35px;font-size:11.8px;color:#23556a;font-weight:700;letter-spacing:-0.014px;">chemotherapy-naïve patients) </span>
</div>
<div class="g" id="km-headings">
<span class="t" style="left:575.50px;top:330.15px;font-size:15.2px;color:#23556a;font-weight:700;letter-spacing:0.024px;">mDoR: 13.4m </span>
<span class="t" style="left:748.30px;top:329.15px;font-size:15.2px;color:#23556a;font-weight:700;letter-spacing:-0.393px;">mPFS: 7.5m </span>
<span class="t" style="left:931.00px;top:328.15px;font-size:15.2px;color:#23556a;font-weight:700;letter-spacing:-0.144px;">mOS: 20.7m </span>
</div>
<div class="g" id="reference">
<span class="t" style="left:496.90px;top:550.50px;font-size:11.5px;color:#3a6c7f;letter-spacing:-0.181px;">1.Sheng X. J Clin Oncol, 2019, 37: 2987-2999. 2. Guo J, Sheng X. J Immunother Cancer. 2022 Feb;10(2):e004036 </span>
</div>
</body></html>
